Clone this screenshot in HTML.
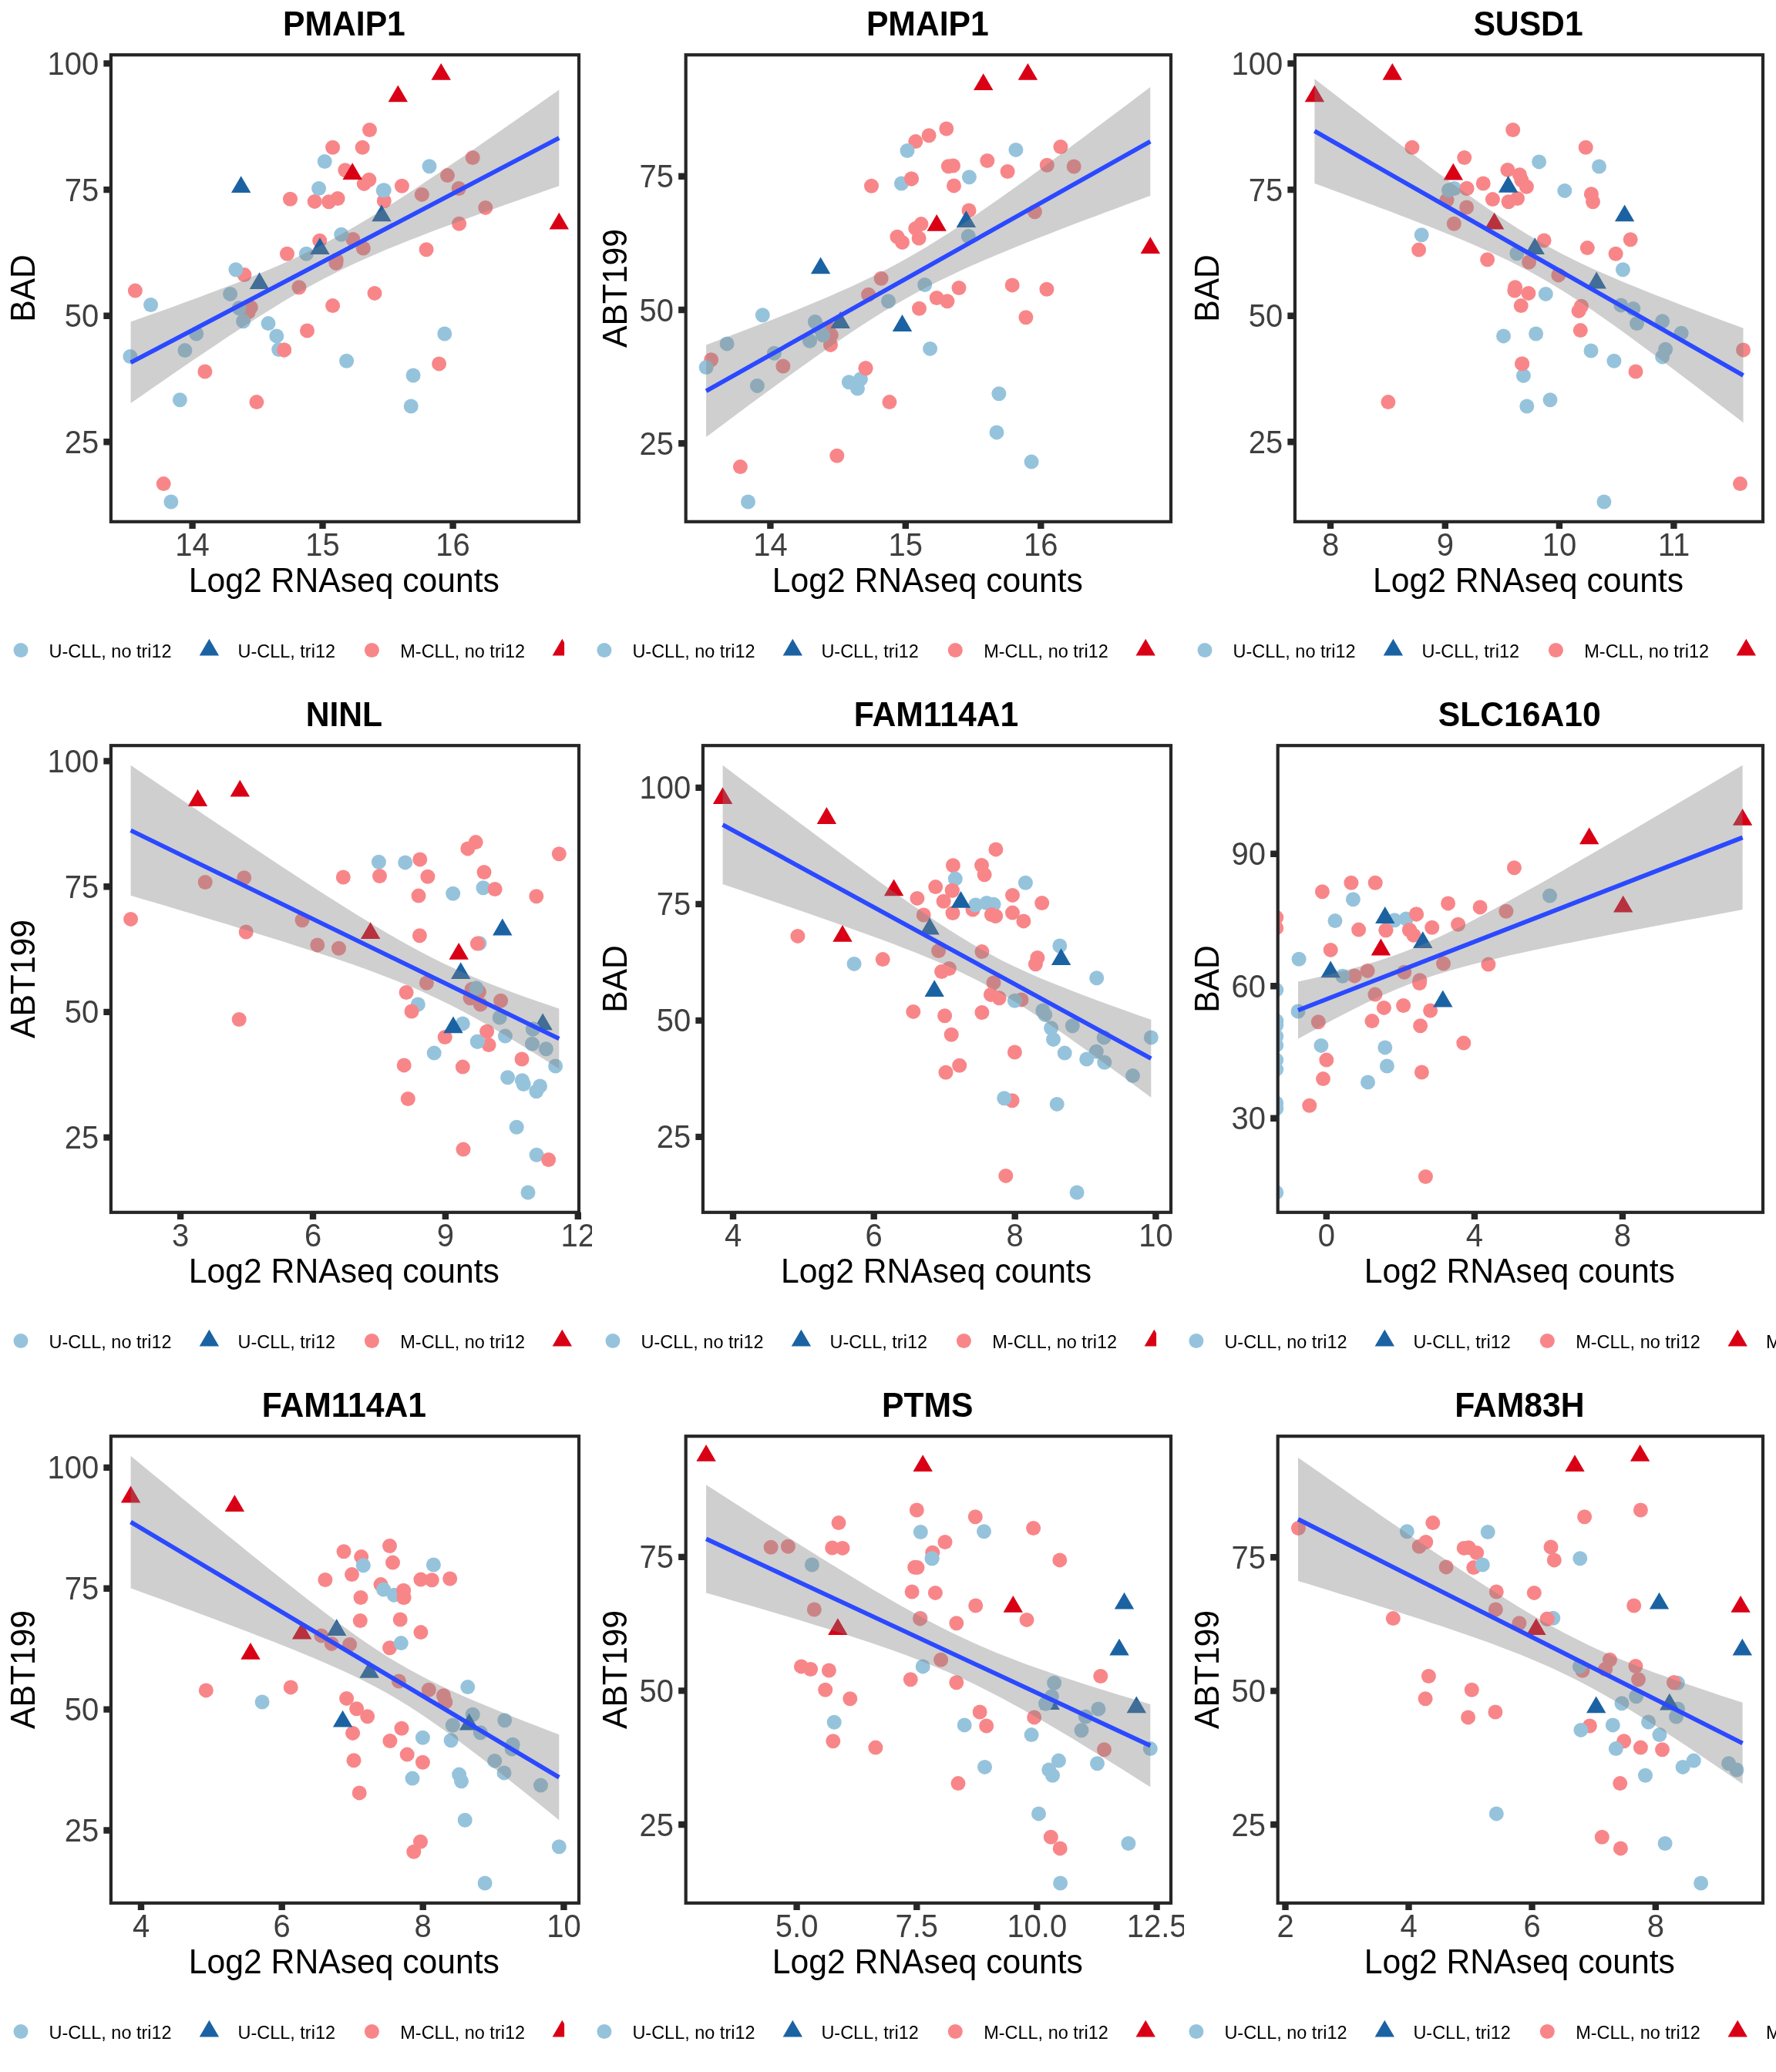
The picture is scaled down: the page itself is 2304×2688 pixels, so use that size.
<!DOCTYPE html>
<html lang="en"><head><meta charset="utf-8"><title>Gene expression vs drug response</title>
<style>html,body{margin:0;padding:0;background:#fff}svg{display:block;will-change:transform}text{font-family:"Liberation Sans",Arial,Helvetica,sans-serif}.tt{font-weight:700;font-size:42.67px;text-anchor:middle;fill:#000}.at{font-size:42.67px;text-anchor:middle;fill:#000}.xt{font-size:40px;text-anchor:middle;fill:#3f3f3f}.yt{font-size:40px;text-anchor:end;fill:#3f3f3f}.lg{font-size:23.47px;fill:#000}.b{fill:#96C3DC}.p{fill:#F88689}.t{fill:#1B62A3}.r{fill:#D90016}</style></head><body>
<svg width="2304" height="2688" viewBox="0 0 2304 2688">
<rect width="2304" height="2688" fill="#fff"/>
<defs>
<clipPath id="c0"><rect x="143.9" y="71.2" width="607.1" height="605.6"/></clipPath>
<clipPath id="c1"><rect x="889.7" y="71.2" width="629.3" height="605.6"/></clipPath>
<clipPath id="c2"><rect x="1679.9" y="71.2" width="607.1" height="605.6"/></clipPath>
<clipPath id="c3"><rect x="143.9" y="967.2" width="607.1" height="605.6"/></clipPath>
<clipPath id="c4"><rect x="911.9" y="967.2" width="607.1" height="605.6"/></clipPath>
<clipPath id="c5"><rect x="1657.7" y="967.2" width="629.3" height="605.6"/></clipPath>
<clipPath id="c6"><rect x="143.9" y="1863.2" width="607.1" height="605.6"/></clipPath>
<clipPath id="c7"><rect x="889.7" y="1863.2" width="629.3" height="605.6"/></clipPath>
<clipPath id="c8"><rect x="1657.7" y="1863.2" width="629.3" height="605.6"/></clipPath>
</defs>
<g id="panel1">
<rect x="0" y="0" width="768" height="896" fill="#fff"/>
<rect x="-24.8" y="806.5" width="960" height="74" fill="#fff"/>
<circle class="b" cx="27" cy="843.5" r="9.5"/>
<path class="t" d="M271.4 828.8l12.7 21.8h-25.4z"/>
<circle class="p" cx="482.4" cy="843.5" r="9.5"/>
<path class="r" d="M729.3 828.8l12.7 21.8h-25.4z"/>
<text class="lg" transform="translate(63.5 852.5) scale(1 1.04)">U-CLL, no tri12</text>
<text class="lg" transform="translate(308.5 852.5) scale(1 1.04)">U-CLL, tri12</text>
<text class="lg" transform="translate(519.3 852.5) scale(1 1.04)">M-CLL, no tri12</text>
<text class="lg" transform="translate(766.1 852.5) scale(1 1.04)">M-CLL, tri12</text>
<text class="tt" transform="translate(446.4 45.6) scale(1 1.04)">PMAIP1</text>
<text class="at" transform="translate(446.4 768) scale(1 1.04)">Log2 RNAseq counts</text>
<text class="at" transform="translate(45.4 374) rotate(-90) scale(1 1.04)">BAD</text>
<text class="yt" transform="translate(128.3 96.9) scale(1 1.04)">100</text>
<text class="yt" transform="translate(128.3 260.6) scale(1 1.04)">75</text>
<text class="yt" transform="translate(128.3 424.2) scale(1 1.04)">50</text>
<text class="yt" transform="translate(128.3 587.8) scale(1 1.04)">25</text>
<text class="xt" transform="translate(249.6 721) scale(1 1.04)">14</text>
<text class="xt" transform="translate(418.5 721) scale(1 1.04)">15</text>
<text class="xt" transform="translate(587.6 721) scale(1 1.04)">16</text>
<path d="M143.9 82.4h-9.55M143.9 246.1h-9.55M143.9 409.7h-9.55M143.9 573.3h-9.55M249.6 676.8v9.1M418.5 676.8v9.1M587.6 676.8v9.1" stroke="#262626" stroke-width="8.4" fill="none"/>
<g clip-path="url(#c0)">
<g class="p"><circle cx="175.4" cy="377.1" r="9.5"/><circle cx="212.2" cy="627.6" r="9.5"/><circle cx="265.9" cy="482" r="9.5"/><circle cx="317" cy="356.6" r="9.5"/><circle cx="325.3" cy="398.7" r="9.5"/><circle cx="332.9" cy="521.6" r="9.5"/><circle cx="372.5" cy="329.2" r="9.5"/><circle cx="376.5" cy="258.2" r="9.5"/><circle cx="368.6" cy="453.9" r="9.5"/><circle cx="388" cy="372.8" r="9.5"/><circle cx="398.5" cy="429" r="9.5"/><circle cx="408.2" cy="261.4" r="9.5"/><circle cx="414.7" cy="312.3" r="9.5"/><circle cx="426.6" cy="261.8" r="9.5"/><circle cx="438.1" cy="257.5" r="9.5"/><circle cx="431.6" cy="191.2" r="9.5"/><circle cx="431.6" cy="396.6" r="9.5"/><circle cx="436.3" cy="337.5" r="9.5"/><circle cx="435.9" cy="341.4" r="9.5"/><circle cx="322.1" cy="404.9" r="9.5"/><circle cx="447.8" cy="220.7" r="9.5"/><circle cx="457.9" cy="310.5" r="9.5"/><circle cx="471.3" cy="322" r="9.5"/><circle cx="470.2" cy="191.2" r="9.5"/><circle cx="479.5" cy="168.5" r="9.5"/><circle cx="472.3" cy="238.4" r="9.5"/><circle cx="478.8" cy="233.3" r="9.5"/><circle cx="486" cy="380.4" r="9.5"/><circle cx="498.3" cy="260.7" r="9.5"/><circle cx="521.4" cy="241.3" r="9.5"/><circle cx="547.3" cy="252.4" r="9.5"/><circle cx="553.1" cy="323.8" r="9.5"/><circle cx="569.6" cy="471.9" r="9.5"/><circle cx="580.5" cy="227.6" r="9.5"/><circle cx="595.2" cy="244.5" r="9.5"/><circle cx="595.6" cy="290.3" r="9.5"/><circle cx="613.2" cy="204.5" r="9.5"/><circle cx="629.8" cy="269.4" r="9.5"/></g>
<g class="b"><circle cx="168.9" cy="462.5" r="9.5"/><circle cx="195.6" cy="395.5" r="9.5"/><circle cx="239.9" cy="454.6" r="9.5"/><circle cx="254.7" cy="433" r="9.5"/><circle cx="233.4" cy="518.7" r="9.5"/><circle cx="221.9" cy="651" r="9.5"/><circle cx="298.6" cy="381.4" r="9.5"/><circle cx="305.9" cy="349.7" r="9.5"/><circle cx="310.2" cy="399.8" r="9.5"/><circle cx="315.6" cy="416.8" r="9.5"/><circle cx="348" cy="419.6" r="9.5"/><circle cx="358.8" cy="435.9" r="9.5"/><circle cx="361.7" cy="453.5" r="9.5"/><circle cx="397.4" cy="329.2" r="9.5"/><circle cx="413.6" cy="244.5" r="9.5"/><circle cx="421.2" cy="209.5" r="9.5"/><circle cx="442.8" cy="304.3" r="9.5"/><circle cx="449.6" cy="468.3" r="9.5"/><circle cx="497.2" cy="247" r="9.5"/><circle cx="498.3" cy="246.7" r="9.5"/><circle cx="557" cy="215.7" r="9.5"/><circle cx="536.1" cy="487" r="9.5"/><circle cx="533.2" cy="527" r="9.5"/><circle cx="576.8" cy="433" r="9.5"/></g>
<circle class="p" cx="368.6" cy="453.9" r="9.5"/>
<path class="t" d="M312.7 228.2l12.7 21.8h-25.4zM336.5 353.3l12.7 21.8h-25.4zM415 308.2l12.7 21.8h-25.4zM495 265.4l12.7 21.8h-25.4z"/>
<path class="r" d="M516.3 110.4l12.7 21.8h-25.4zM572.2 81.9l12.7 21.8h-25.4zM457.2 211.3l12.7 21.8h-25.4zM725.3 275.8l12.7 21.8h-25.4z"/>
<path d="M169.6 417.5L183.5 412.6L197.4 407.6L211.3 402.7L225.2 397.7L239.1 392.6L253 387.5L266.9 382.3L280.8 377.1L294.7 371.8L308.6 366.4L322.5 360.8L336.3 355.1L350.2 349.3L364.1 343.2L378 337L391.9 330.4L405.8 323.6L419.7 316.5L433.6 309.1L447.5 301.3L461.4 293.3L475.3 285.1L489.2 276.5L503 267.8L516.9 259L530.8 250L544.7 240.8L558.6 231.6L572.5 222.2L586.4 212.8L600.3 203.4L614.2 193.9L628.1 184.3L642 174.7L655.9 165.1L669.7 155.4L683.6 145.7L697.5 136L711.4 126.3L725.3 116.6L725.3 241.3L711.4 246.1L697.5 250.9L683.6 255.8L669.7 260.7L655.9 265.6L642 270.5L628.1 275.5L614.2 280.5L600.3 285.6L586.4 290.7L572.5 295.8L558.6 301.1L544.7 306.4L530.8 311.8L516.9 317.4L503 323.1L489.2 328.9L475.3 335L461.4 341.3L447.5 347.8L433.6 354.7L419.7 361.8L405.8 369.3L391.9 377L378 385.1L364.1 393.3L350.2 401.9L336.3 410.6L322.5 419.5L308.6 428.5L294.7 437.6L280.8 446.9L266.9 456.2L253 465.6L239.1 475.1L225.2 484.6L211.3 494.2L197.4 503.8L183.5 513.4L169.6 523.1Z" fill="#808080" fill-opacity="0.38"/>
<line x1="169.6" y1="470.3" x2="725.3" y2="178.9" stroke="#2B49FF" stroke-width="5.7"/>
</g>
<rect x="143.9" y="71.2" width="607.1" height="605.6" fill="none" stroke="#262626" stroke-width="4.2"/>
</g>
<g id="panel2">
<rect x="768" y="0" width="768" height="896" fill="#fff"/>
<rect x="732.1" y="806.5" width="960" height="74" fill="#fff"/>
<circle class="b" cx="783.9" cy="843.5" r="9.5"/>
<path class="t" d="M1028.3 828.8l12.7 21.8h-25.4z"/>
<circle class="p" cx="1239.3" cy="843.5" r="9.5"/>
<path class="r" d="M1486.2 828.8l12.7 21.8h-25.4z"/>
<text class="lg" transform="translate(820.4 852.5) scale(1 1.04)">U-CLL, no tri12</text>
<text class="lg" transform="translate(1065.4 852.5) scale(1 1.04)">U-CLL, tri12</text>
<text class="lg" transform="translate(1276.2 852.5) scale(1 1.04)">M-CLL, no tri12</text>
<text class="lg" transform="translate(1523 852.5) scale(1 1.04)">M-CLL, tri12</text>
<text class="tt" transform="translate(1203.3 45.6) scale(1 1.04)">PMAIP1</text>
<text class="at" transform="translate(1203.3 768) scale(1 1.04)">Log2 RNAseq counts</text>
<text class="at" transform="translate(813.4 374) rotate(-90) scale(1 1.04)">ABT199</text>
<text class="yt" transform="translate(874.1 243.2) scale(1 1.04)">75</text>
<text class="yt" transform="translate(874.1 416.5) scale(1 1.04)">50</text>
<text class="yt" transform="translate(874.1 589.7) scale(1 1.04)">25</text>
<text class="xt" transform="translate(999.4 721) scale(1 1.04)">14</text>
<text class="xt" transform="translate(1174.8 721) scale(1 1.04)">15</text>
<text class="xt" transform="translate(1350.3 721) scale(1 1.04)">16</text>
<path d="M889.7 228.7h-9.55M889.7 402h-9.55M889.7 575.2h-9.55M999.4 676.8v9.1M1174.8 676.8v9.1M1350.3 676.8v9.1" stroke="#262626" stroke-width="8.4" fill="none"/>
<g clip-path="url(#c1)">
<g class="p"><circle cx="922.6" cy="466.8" r="9.5"/><circle cx="960.4" cy="605.6" r="9.5"/><circle cx="1015.9" cy="475.1" r="9.5"/><circle cx="1074.7" cy="425.4" r="9.5"/><circle cx="1078.3" cy="434.8" r="9.5"/><circle cx="1077.5" cy="447.4" r="9.5"/><circle cx="1085.8" cy="591.2" r="9.5"/><circle cx="1123" cy="477.7" r="9.5"/><circle cx="1126.6" cy="382.2" r="9.5"/><circle cx="1130.5" cy="241.3" r="9.5"/><circle cx="1143.1" cy="361.3" r="9.5"/><circle cx="1153.9" cy="521.6" r="9.5"/><circle cx="1164" cy="307.2" r="9.5"/><circle cx="1170.5" cy="314.4" r="9.5"/><circle cx="1182.4" cy="231.9" r="9.5"/><circle cx="1187.8" cy="183.6" r="9.5"/><circle cx="1187.8" cy="296.4" r="9.5"/><circle cx="1195" cy="290.6" r="9.5"/><circle cx="1192.1" cy="309" r="9.5"/><circle cx="1192.5" cy="400.2" r="9.5"/><circle cx="1205.1" cy="175.7" r="9.5"/><circle cx="1215.2" cy="386.5" r="9.5"/><circle cx="1227.8" cy="167" r="9.5"/><circle cx="1228.9" cy="390.8" r="9.5"/><circle cx="1230.3" cy="215.7" r="9.5"/><circle cx="1236.5" cy="215" r="9.5"/><circle cx="1237.5" cy="240.9" r="9.5"/><circle cx="1244" cy="373.5" r="9.5"/><circle cx="1257" cy="273" r="9.5"/><circle cx="1280.8" cy="208.5" r="9.5"/><circle cx="1307.1" cy="222.5" r="9.5"/><circle cx="1313.2" cy="369.9" r="9.5"/><circle cx="1330.9" cy="411.7" r="9.5"/><circle cx="1342.4" cy="274.8" r="9.5"/><circle cx="1357.9" cy="375.3" r="9.5"/><circle cx="1358.3" cy="214.2" r="9.5"/><circle cx="1375.9" cy="190.5" r="9.5"/><circle cx="1393.2" cy="216" r="9.5"/></g>
<g class="b"><circle cx="916.1" cy="476.6" r="9.5"/><circle cx="943.1" cy="445.9" r="9.5"/><circle cx="982.4" cy="500.4" r="9.5"/><circle cx="989.3" cy="408.8" r="9.5"/><circle cx="1004.4" cy="458.2" r="9.5"/><circle cx="1050.5" cy="442.3" r="9.5"/><circle cx="1057.4" cy="417.5" r="9.5"/><circle cx="1062.4" cy="425.4" r="9.5"/><circle cx="1067.5" cy="434.8" r="9.5"/><circle cx="1101.3" cy="495.7" r="9.5"/><circle cx="1112.5" cy="504" r="9.5"/><circle cx="1116.5" cy="491.7" r="9.5"/><circle cx="1152.5" cy="390.8" r="9.5"/><circle cx="1169.4" cy="238" r="9.5"/><circle cx="1177" cy="195.5" r="9.5"/><circle cx="1199.7" cy="369.5" r="9.5"/><circle cx="1206.6" cy="452.4" r="9.5"/><circle cx="1256.3" cy="306.5" r="9.5"/><circle cx="1257.4" cy="229.7" r="9.5"/><circle cx="1317.9" cy="194.4" r="9.5"/><circle cx="1295.9" cy="510.8" r="9.5"/><circle cx="1293" cy="560.9" r="9.5"/><circle cx="1338.1" cy="599.1" r="9.5"/><circle cx="970.5" cy="651" r="9.5"/></g>
<circle class="p" cx="1182.4" cy="231.9" r="9.5"/>
<circle class="p" cx="1123" cy="477.7" r="9.5"/>
<path class="t" d="M1064.6 333.5l12.7 21.8h-25.4zM1090.2 404.1l12.7 21.8h-25.4zM1170.5 408.1l12.7 21.8h-25.4zM1253.4 273.3l12.7 21.8h-25.4z"/>
<path class="r" d="M1275.7 95.3l12.7 21.8h-25.4zM1333.4 81.9l12.7 21.8h-25.4zM1215.2 278l12.7 21.8h-25.4zM1492.3 307.2l12.7 21.8h-25.4z"/>
<path d="M916.1 447.4L930.5 442L944.9 436.5L959.3 431.1L973.7 425.5L988.1 420L1002.5 414.4L1016.9 408.7L1031.4 402.9L1045.8 397L1060.2 391L1074.6 384.9L1089 378.6L1103.4 372.2L1117.8 365.5L1132.2 358.5L1146.6 351.3L1161 343.7L1175.4 335.8L1189.8 327.6L1204.2 319L1218.6 310.1L1233 300.9L1247.4 291.4L1261.8 281.7L1276.2 271.8L1290.6 261.8L1305.1 251.6L1319.5 241.3L1333.9 230.9L1348.3 220.4L1362.7 209.8L1377.1 199.2L1391.5 188.6L1405.9 177.9L1420.3 167.1L1434.7 156.3L1449.1 145.5L1463.5 134.7L1477.9 123.8L1492.3 113L1492.3 253.9L1477.9 259.2L1463.5 264.5L1449.1 269.9L1434.7 275.3L1420.3 280.7L1405.9 286.1L1391.5 291.6L1377.1 297.1L1362.7 302.7L1348.3 308.3L1333.9 314L1319.5 319.8L1305.1 325.7L1290.6 331.7L1276.2 337.8L1261.8 344.1L1247.4 350.6L1233 357.4L1218.6 364.3L1204.2 371.6L1189.8 379.2L1175.4 387.2L1161 395.5L1146.6 404.1L1132.2 413L1117.8 422.3L1103.4 431.8L1089 441.5L1074.6 451.4L1060.2 461.5L1045.8 471.7L1031.4 482L1016.9 492.4L1002.5 502.9L988.1 513.5L973.7 524.1L959.3 534.8L944.9 545.5L930.5 556.2L916.1 567Z" fill="#808080" fill-opacity="0.38"/>
<line x1="916.1" y1="507.2" x2="1492.3" y2="183.4" stroke="#2B49FF" stroke-width="5.7"/>
</g>
<rect x="889.7" y="71.2" width="629.3" height="605.6" fill="none" stroke="#262626" stroke-width="4.2"/>
</g>
<g id="panel3">
<rect x="1536" y="0" width="768" height="896" fill="#fff"/>
<rect x="1511.2" y="806.5" width="960" height="74" fill="#fff"/>
<circle class="b" cx="1563" cy="843.5" r="9.5"/>
<path class="t" d="M1807.4 828.8l12.7 21.8h-25.4z"/>
<circle class="p" cx="2018.4" cy="843.5" r="9.5"/>
<path class="r" d="M2265.3 828.8l12.7 21.8h-25.4z"/>
<text class="lg" transform="translate(1599.5 852.5) scale(1 1.04)">U-CLL, no tri12</text>
<text class="lg" transform="translate(1844.5 852.5) scale(1 1.04)">U-CLL, tri12</text>
<text class="lg" transform="translate(2055.3 852.5) scale(1 1.04)">M-CLL, no tri12</text>
<text class="tt" transform="translate(1982.5 45.6) scale(1 1.04)">SUSD1</text>
<text class="at" transform="translate(1982.5 768) scale(1 1.04)">Log2 RNAseq counts</text>
<text class="at" transform="translate(1581.4 374) rotate(-90) scale(1 1.04)">BAD</text>
<text class="yt" transform="translate(1664.3 96.9) scale(1 1.04)">100</text>
<text class="yt" transform="translate(1664.3 260.6) scale(1 1.04)">75</text>
<text class="yt" transform="translate(1664.3 424.2) scale(1 1.04)">50</text>
<text class="yt" transform="translate(1664.3 587.8) scale(1 1.04)">25</text>
<text class="xt" transform="translate(1726 721) scale(1 1.04)">8</text>
<text class="xt" transform="translate(1874.8 721) scale(1 1.04)">9</text>
<text class="xt" transform="translate(2022.9 721) scale(1 1.04)">10</text>
<text class="xt" transform="translate(2171.4 721) scale(1 1.04)">11</text>
<path d="M1679.9 82.4h-9.55M1679.9 246.1h-9.55M1679.9 409.7h-9.55M1679.9 573.3h-9.55M1726 676.8v9.1M1874.8 676.8v9.1M2022.9 676.8v9.1M2171.4 676.8v9.1" stroke="#262626" stroke-width="8.4" fill="none"/>
<g clip-path="url(#c2)">
<g class="p"><circle cx="1831.9" cy="191.2" r="9.5"/><circle cx="1800.9" cy="521.6" r="9.5"/><circle cx="1840.6" cy="324.1" r="9.5"/><circle cx="1877" cy="259.6" r="9.5"/><circle cx="1886.3" cy="290.3" r="9.5"/><circle cx="1899.7" cy="204.5" r="9.5"/><circle cx="1902.6" cy="269" r="9.5"/><circle cx="1902.9" cy="244.5" r="9.5"/><circle cx="1924.2" cy="238" r="9.5"/><circle cx="1929.6" cy="336.8" r="9.5"/><circle cx="1936.4" cy="258.6" r="9.5"/><circle cx="1955.9" cy="220.4" r="9.5"/><circle cx="1957" cy="261.8" r="9.5"/><circle cx="1962.7" cy="168.5" r="9.5"/><circle cx="1968.5" cy="257.5" r="9.5"/><circle cx="1971.4" cy="226.8" r="9.5"/><circle cx="1973.9" cy="233.7" r="9.5"/><circle cx="1980.4" cy="242.3" r="9.5"/><circle cx="1965.6" cy="372.8" r="9.5"/><circle cx="1964.9" cy="377.1" r="9.5"/><circle cx="1973.2" cy="396.6" r="9.5"/><circle cx="1974.6" cy="471.9" r="9.5"/><circle cx="1982.9" cy="380.4" r="9.5"/><circle cx="1983.6" cy="340" r="9.5"/><circle cx="2003.1" cy="311.9" r="9.5"/><circle cx="2021.8" cy="356.9" r="9.5"/><circle cx="2051.4" cy="397.3" r="9.5"/><circle cx="2048.1" cy="403.4" r="9.5"/><circle cx="2050.3" cy="428.6" r="9.5"/><circle cx="2057.2" cy="191.2" r="9.5"/><circle cx="2059.3" cy="321.6" r="9.5"/><circle cx="2064.4" cy="251.7" r="9.5"/><circle cx="2066.5" cy="261.8" r="9.5"/><circle cx="2096.1" cy="329.2" r="9.5"/><circle cx="2115.2" cy="310.8" r="9.5"/><circle cx="2122" cy="482" r="9.5"/><circle cx="2261.5" cy="453.9" r="9.5"/><circle cx="2257.5" cy="627.6" r="9.5"/></g>
<g class="b"><circle cx="1844.2" cy="304.7" r="9.5"/><circle cx="1879.5" cy="246.7" r="9.5"/><circle cx="1886.7" cy="244.5" r="9.5"/><circle cx="1950.5" cy="435.9" r="9.5"/><circle cx="1976.4" cy="487.4" r="9.5"/><circle cx="1980.8" cy="527" r="9.5"/><circle cx="1967.8" cy="328.8" r="9.5"/><circle cx="1992.6" cy="433" r="9.5"/><circle cx="1996.6" cy="209.9" r="9.5"/><circle cx="2005.3" cy="381.4" r="9.5"/><circle cx="2011" cy="518.7" r="9.5"/><circle cx="2029.8" cy="247.4" r="9.5"/><circle cx="2064" cy="455" r="9.5"/><circle cx="2074.5" cy="216" r="9.5"/><circle cx="2080.9" cy="651" r="9.5"/><circle cx="2093.9" cy="468.3" r="9.5"/><circle cx="2102.9" cy="395.9" r="9.5"/><circle cx="2105.4" cy="349.7" r="9.5"/><circle cx="2118.8" cy="400.5" r="9.5"/><circle cx="2123.5" cy="419.6" r="9.5"/><circle cx="2156.6" cy="416.8" r="9.5"/><circle cx="2156.6" cy="462.9" r="9.5"/><circle cx="2160.6" cy="453.2" r="9.5"/><circle cx="2181.1" cy="432.3" r="9.5"/></g>
<circle class="p" cx="1902.9" cy="244.5" r="9.5"/>
<circle class="p" cx="1974.6" cy="471.9" r="9.5"/>
<path class="t" d="M1956.6 227.9l12.7 21.8h-25.4zM1991.2 308.2l12.7 21.8h-25.4zM2071.2 352.6l12.7 21.8h-25.4zM2107.6 265.4l12.7 21.8h-25.4z"/>
<path class="r" d="M1705.4 110.4l12.7 21.8h-25.4zM1806.3 81.9l12.7 21.8h-25.4zM1885.3 211.7l12.7 21.8h-25.4zM1938.6 275.8l12.7 21.8h-25.4z"/>
<path d="M1705.4 102.2L1719.3 112.9L1733.2 123.7L1747.1 134.4L1761 145.1L1774.9 155.7L1788.8 166.4L1802.7 177L1816.6 187.5L1830.5 198L1844.5 208.5L1858.4 218.9L1872.3 229.2L1886.2 239.4L1900.1 249.4L1914 259.3L1927.9 269.1L1941.8 278.6L1955.7 287.8L1969.6 296.7L1983.5 305.3L1997.4 313.5L2011.3 321.3L2025.2 328.7L2039.1 335.7L2053 342.5L2066.9 348.9L2080.8 355.1L2094.7 361.1L2108.6 366.9L2122.5 372.6L2136.4 378.2L2150.3 383.7L2164.2 389.1L2178.1 394.5L2192 399.8L2205.9 405.1L2219.8 410.3L2233.7 415.5L2247.6 420.6L2261.5 425.8L2261.5 548.3L2247.6 537.6L2233.7 526.9L2219.8 516.2L2205.9 505.6L2192 495L2178.1 484.5L2164.2 474L2150.3 463.6L2136.4 453.2L2122.5 443L2108.6 432.8L2094.7 422.8L2080.8 412.9L2066.9 403.3L2053 393.9L2039.1 384.8L2025.2 376L2011.3 367.5L1997.4 359.5L1983.5 351.8L1969.6 344.6L1955.7 337.6L1941.8 331L1927.9 324.7L1914 318.5L1900.1 312.6L1886.2 306.8L1872.3 301.2L1858.4 295.6L1844.5 290.2L1830.5 284.8L1816.6 279.4L1802.7 274.1L1788.8 268.9L1774.9 263.7L1761 258.5L1747.1 253.3L1733.2 248.2L1719.3 243.1L1705.4 238Z" fill="#808080" fill-opacity="0.38"/>
<line x1="1705.4" y1="170.1" x2="2261.5" y2="487" stroke="#2B49FF" stroke-width="5.7"/>
</g>
<rect x="1679.9" y="71.2" width="607.1" height="605.6" fill="none" stroke="#262626" stroke-width="4.2"/>
</g>
<g id="panel4">
<rect x="0" y="896" width="768" height="896" fill="#fff"/>
<rect x="-24.8" y="1702.5" width="960" height="74" fill="#fff"/>
<circle class="b" cx="27" cy="1739.5" r="9.5"/>
<path class="t" d="M271.4 1724.8l12.7 21.8h-25.4z"/>
<circle class="p" cx="482.4" cy="1739.5" r="9.5"/>
<path class="r" d="M729.3 1724.8l12.7 21.8h-25.4z"/>
<text class="lg" transform="translate(63.5 1748.5) scale(1 1.04)">U-CLL, no tri12</text>
<text class="lg" transform="translate(308.5 1748.5) scale(1 1.04)">U-CLL, tri12</text>
<text class="lg" transform="translate(519.3 1748.5) scale(1 1.04)">M-CLL, no tri12</text>
<text class="lg" transform="translate(766.1 1748.5) scale(1 1.04)">M-CLL, tri12</text>
<text class="tt" transform="translate(446.4 941.6) scale(1 1.04)">NINL</text>
<text class="at" transform="translate(446.4 1664) scale(1 1.04)">Log2 RNAseq counts</text>
<text class="at" transform="translate(45.4 1270) rotate(-90) scale(1 1.04)">ABT199</text>
<text class="yt" transform="translate(128.3 1001.9) scale(1 1.04)">100</text>
<text class="yt" transform="translate(128.3 1164.7) scale(1 1.04)">75</text>
<text class="yt" transform="translate(128.3 1327.4) scale(1 1.04)">50</text>
<text class="yt" transform="translate(128.3 1490.1) scale(1 1.04)">25</text>
<text class="xt" transform="translate(234.1 1617) scale(1 1.04)">3</text>
<text class="xt" transform="translate(406 1617) scale(1 1.04)">6</text>
<text class="xt" transform="translate(577.9 1617) scale(1 1.04)">9</text>
<text class="xt" transform="translate(749.8 1617) scale(1 1.04)">12</text>
<path d="M143.9 987.4h-9.55M143.9 1150.2h-9.55M143.9 1312.9h-9.55M143.9 1475.6h-9.55M234.1 1572.8v9.1M406 1572.8v9.1M577.9 1572.8v9.1M749.8 1572.8v9.1" stroke="#262626" stroke-width="8.4" fill="none"/>
<g clip-path="url(#c3)">
<g class="b"><circle cx="491.4" cy="1118.2" r="9.5"/><circle cx="525.7" cy="1118.9" r="9.5"/><circle cx="542.3" cy="1303" r="9.5"/><circle cx="563.2" cy="1366.1" r="9.5"/><circle cx="587.7" cy="1159.2" r="9.5"/><circle cx="600.3" cy="1327.9" r="9.5"/><circle cx="619.4" cy="1351.3" r="9.5"/><circle cx="621.9" cy="1223.7" r="9.5"/><circle cx="626.9" cy="1151.7" r="9.5"/><circle cx="617.9" cy="1282.1" r="9.5"/><circle cx="648.2" cy="1320" r="9.5"/><circle cx="655.4" cy="1344.1" r="9.5"/><circle cx="658.6" cy="1397.8" r="9.5"/><circle cx="677.4" cy="1401.8" r="9.5"/><circle cx="679.2" cy="1406.5" r="9.5"/><circle cx="670.2" cy="1462.3" r="9.5"/><circle cx="691.4" cy="1335.1" r="9.5"/><circle cx="690.4" cy="1354.2" r="9.5"/><circle cx="700.5" cy="1409" r="9.5"/><circle cx="695.8" cy="1415.8" r="9.5"/><circle cx="708.4" cy="1360.7" r="9.5"/><circle cx="696.1" cy="1498.3" r="9.5"/><circle cx="685" cy="1547" r="9.5"/><circle cx="720.6" cy="1383" r="9.5"/></g>
<g class="p"><circle cx="169.6" cy="1192.4" r="9.5"/><circle cx="266.2" cy="1144.5" r="9.5"/><circle cx="316.7" cy="1138.7" r="9.5"/><circle cx="319.2" cy="1209" r="9.5"/><circle cx="310.2" cy="1322.5" r="9.5"/><circle cx="392" cy="1193.8" r="9.5"/><circle cx="411.8" cy="1225.9" r="9.5"/><circle cx="439.5" cy="1230.2" r="9.5"/><circle cx="445.3" cy="1138" r="9.5"/><circle cx="492.5" cy="1136.5" r="9.5"/><circle cx="544.8" cy="1114.9" r="9.5"/><circle cx="543" cy="1162.1" r="9.5"/><circle cx="544.4" cy="1213.7" r="9.5"/><circle cx="554.9" cy="1137.3" r="9.5"/><circle cx="553.4" cy="1275.3" r="9.5"/><circle cx="527.1" cy="1287.5" r="9.5"/><circle cx="534" cy="1312" r="9.5"/><circle cx="524.2" cy="1381.9" r="9.5"/><circle cx="529.3" cy="1425.5" r="9.5"/><circle cx="577.2" cy="1345.5" r="9.5"/><circle cx="600.3" cy="1384.1" r="9.5"/><circle cx="601" cy="1491.1" r="9.5"/><circle cx="606.8" cy="1100.9" r="9.5"/><circle cx="617.2" cy="1092.6" r="9.5"/><circle cx="612.2" cy="1283.2" r="9.5"/><circle cx="621.5" cy="1286.8" r="9.5"/><circle cx="610" cy="1294.7" r="9.5"/><circle cx="623.3" cy="1303" r="9.5"/><circle cx="619.4" cy="1224.1" r="9.5"/><circle cx="628" cy="1131.5" r="9.5"/><circle cx="642.1" cy="1153.5" r="9.5"/><circle cx="631.6" cy="1338.3" r="9.5"/><circle cx="634.1" cy="1355.6" r="9.5"/><circle cx="649.6" cy="1298.3" r="9.5"/><circle cx="677" cy="1374" r="9.5"/><circle cx="695.8" cy="1162.8" r="9.5"/><circle cx="711.6" cy="1504.5" r="9.5"/><circle cx="725.3" cy="1107.7" r="9.5"/></g>
<circle class="b" cx="617.9" cy="1282.1" r="9.5"/>
<circle class="b" cx="619.4" cy="1351.3" r="9.5"/>
<path class="t" d="M651.8 1191.6l12.7 21.8h-25.4zM597.7 1248.2l12.7 21.8h-25.4zM588 1318.5l12.7 21.8h-25.4zM704.1 1314.5l12.7 21.8h-25.4z"/>
<path class="r" d="M256.5 1024.1l12.7 21.8h-25.4zM311.3 1011.8l12.7 21.8h-25.4zM480.6 1196.3l12.7 21.8h-25.4zM595.2 1223l12.7 21.8h-25.4z"/>
<circle class="b" cx="691.4" cy="1335.1" r="9.5"/>
<path d="M169.6 992.8L183.5 1002.2L197.4 1011.6L211.3 1021L225.2 1030.3L239.1 1039.7L253 1049.1L266.9 1058.4L280.8 1067.7L294.7 1077L308.6 1086.3L322.5 1095.6L336.3 1104.8L350.2 1114L364.1 1123.2L378 1132.3L391.9 1141.4L405.8 1150.4L419.7 1159.4L433.6 1168.2L447.5 1177L461.4 1185.7L475.3 1194.3L489.2 1202.7L503 1210.9L516.9 1218.9L530.8 1226.7L544.7 1234.3L558.6 1241.5L572.5 1248.4L586.4 1255.1L600.3 1261.4L614.2 1267.4L628.1 1273.2L642 1278.7L655.9 1284.1L669.7 1289.2L683.6 1294.2L697.5 1299L711.4 1303.8L725.3 1308.4L725.3 1386.6L711.4 1377.8L697.5 1369L683.6 1360.3L669.7 1351.8L655.9 1343.4L642 1335.2L628.1 1327.3L614.2 1319.5L600.3 1312L586.4 1304.8L572.5 1298L558.6 1291.4L544.7 1285.1L530.8 1279.1L516.9 1273.4L503 1267.9L489.2 1262.7L475.3 1257.6L461.4 1252.6L447.5 1247.8L433.6 1243L419.7 1238.4L405.8 1233.9L391.9 1229.4L378 1224.9L364.1 1220.5L350.2 1216.2L336.3 1211.9L322.5 1207.6L308.6 1203.4L294.7 1199.1L280.8 1194.9L266.9 1190.7L253 1186.6L239.1 1182.4L225.2 1178.2L211.3 1174.1L197.4 1170L183.5 1165.9L169.6 1161.8Z" fill="#808080" fill-opacity="0.38"/>
<line x1="169.6" y1="1077.3" x2="725.3" y2="1347.5" stroke="#2B49FF" stroke-width="5.7"/>
</g>
<rect x="143.9" y="967.2" width="607.1" height="605.6" fill="none" stroke="#262626" stroke-width="4.2"/>
</g>
<g id="panel5">
<rect x="768" y="896" width="768" height="896" fill="#fff"/>
<rect x="743.2" y="1702.5" width="960" height="74" fill="#fff"/>
<circle class="b" cx="795" cy="1739.5" r="9.5"/>
<path class="t" d="M1039.4 1724.8l12.7 21.8h-25.4z"/>
<circle class="p" cx="1250.4" cy="1739.5" r="9.5"/>
<path class="r" d="M1497.3 1724.8l12.7 21.8h-25.4z"/>
<text class="lg" transform="translate(831.5 1748.5) scale(1 1.04)">U-CLL, no tri12</text>
<text class="lg" transform="translate(1076.5 1748.5) scale(1 1.04)">U-CLL, tri12</text>
<text class="lg" transform="translate(1287.3 1748.5) scale(1 1.04)">M-CLL, no tri12</text>
<text class="lg" transform="translate(1534.1 1748.5) scale(1 1.04)">M-CLL, tri12</text>
<text class="tt" transform="translate(1214.5 941.6) scale(1 1.04)">FAM114A1</text>
<text class="at" transform="translate(1214.5 1664) scale(1 1.04)">Log2 RNAseq counts</text>
<text class="at" transform="translate(813.4 1270) rotate(-90) scale(1 1.04)">BAD</text>
<text class="yt" transform="translate(896.3 1036.4) scale(1 1.04)">100</text>
<text class="yt" transform="translate(896.3 1187.4) scale(1 1.04)">75</text>
<text class="yt" transform="translate(896.3 1338.4) scale(1 1.04)">50</text>
<text class="yt" transform="translate(896.3 1489.4) scale(1 1.04)">25</text>
<text class="xt" transform="translate(951 1617) scale(1 1.04)">4</text>
<text class="xt" transform="translate(1133.7 1617) scale(1 1.04)">6</text>
<text class="xt" transform="translate(1316.7 1617) scale(1 1.04)">8</text>
<text class="xt" transform="translate(1499.4 1617) scale(1 1.04)">10</text>
<path d="M911.9 1021.9h-9.55M911.9 1172.9h-9.55M911.9 1323.9h-9.55M911.9 1474.9h-9.55M951 1572.8v9.1M1133.7 1572.8v9.1M1316.7 1572.8v9.1M1499.4 1572.8v9.1" stroke="#262626" stroke-width="8.4" fill="none"/>
<g clip-path="url(#c4)">
<g class="p"><circle cx="1034.9" cy="1214.4" r="9.5"/><circle cx="1145.2" cy="1244.6" r="9.5"/><circle cx="1184.8" cy="1312.4" r="9.5"/><circle cx="1189.9" cy="1165.4" r="9.5"/><circle cx="1198.2" cy="1187" r="9.5"/><circle cx="1213.7" cy="1150.6" r="9.5"/><circle cx="1217.6" cy="1233.5" r="9.5"/><circle cx="1221.6" cy="1260.5" r="9.5"/><circle cx="1224.1" cy="1169.3" r="9.5"/><circle cx="1231.3" cy="1256.5" r="9.5"/><circle cx="1225.6" cy="1317.8" r="9.5"/><circle cx="1227" cy="1391.3" r="9.5"/><circle cx="1234.2" cy="1342.3" r="9.5"/><circle cx="1235.3" cy="1155.3" r="9.5"/><circle cx="1236" cy="1184.5" r="9.5"/><circle cx="1236.4" cy="1122.8" r="9.5"/><circle cx="1244.7" cy="1382.3" r="9.5"/><circle cx="1262" cy="1180.1" r="9.5"/><circle cx="1273.5" cy="1122.5" r="9.5"/><circle cx="1277.1" cy="1134.7" r="9.5"/><circle cx="1273.9" cy="1234.6" r="9.5"/><circle cx="1273.9" cy="1313.5" r="9.5"/><circle cx="1286.5" cy="1186.6" r="9.5"/><circle cx="1291.5" cy="1188.4" r="9.5"/><circle cx="1291.9" cy="1101.9" r="9.5"/><circle cx="1289" cy="1274.9" r="9.5"/><circle cx="1285.4" cy="1290.4" r="9.5"/><circle cx="1296.2" cy="1294.7" r="9.5"/><circle cx="1313.5" cy="1161.4" r="9.5"/><circle cx="1313.5" cy="1184.1" r="9.5"/><circle cx="1316.4" cy="1365" r="9.5"/><circle cx="1313.1" cy="1427.7" r="9.5"/><circle cx="1304.8" cy="1525.4" r="9.5"/><circle cx="1325" cy="1296.9" r="9.5"/><circle cx="1327.9" cy="1194.9" r="9.5"/><circle cx="1343.4" cy="1250.8" r="9.5"/><circle cx="1345.9" cy="1242.5" r="9.5"/><circle cx="1351.7" cy="1171.5" r="9.5"/></g>
<g class="b"><circle cx="1108.1" cy="1250.4" r="9.5"/><circle cx="1239.3" cy="1140.1" r="9.5"/><circle cx="1265.6" cy="1174" r="9.5"/><circle cx="1280" cy="1171.5" r="9.5"/><circle cx="1289" cy="1173.3" r="9.5"/><circle cx="1330.4" cy="1145.2" r="9.5"/><circle cx="1316.4" cy="1298.3" r="9.5"/><circle cx="1302.7" cy="1424.8" r="9.5"/><circle cx="1352.8" cy="1311" r="9.5"/><circle cx="1355.7" cy="1316.4" r="9.5"/><circle cx="1363.6" cy="1333.7" r="9.5"/><circle cx="1366.5" cy="1348.4" r="9.5"/><circle cx="1371.2" cy="1432.4" r="9.5"/><circle cx="1374.8" cy="1227" r="9.5"/><circle cx="1381.2" cy="1366.1" r="9.5"/><circle cx="1391.3" cy="1330.8" r="9.5"/><circle cx="1397.1" cy="1547" r="9.5"/><circle cx="1409.7" cy="1374" r="9.5"/><circle cx="1422.3" cy="1364.3" r="9.5"/><circle cx="1422.7" cy="1268.8" r="9.5"/><circle cx="1432.1" cy="1345.9" r="9.5"/><circle cx="1432.8" cy="1378.3" r="9.5"/><circle cx="1469.5" cy="1395.6" r="9.5"/><circle cx="1493.3" cy="1345.9" r="9.5"/></g>
<circle class="p" cx="1235.3" cy="1155.3" r="9.5"/>
<circle class="p" cx="1286.5" cy="1186.6" r="9.5"/>
<circle class="p" cx="1291.5" cy="1188.4" r="9.5"/>
<path class="t" d="M1246.5 1156l12.7 21.8h-25.4zM1206.1 1190.6l12.7 21.8h-25.4zM1212.2 1271.3l12.7 21.8h-25.4zM1376.6 1230.2l12.7 21.8h-25.4z"/>
<path class="r" d="M937.6 1021.2l12.7 21.8h-25.4zM1072.4 1047.1l12.7 21.8h-25.4zM1159.6 1140.5l12.7 21.8h-25.4zM1093 1199.9l12.7 21.8h-25.4z"/>
<path d="M937.6 992.8L951.5 1003.2L965.4 1013.7L979.3 1024.1L993.2 1034.5L1007.1 1044.9L1021 1055.3L1034.9 1065.7L1048.8 1076L1062.7 1086.4L1076.6 1096.7L1090.5 1106.9L1104.3 1117.2L1118.2 1127.3L1132.1 1137.4L1146 1147.5L1159.9 1157.4L1173.8 1167.3L1187.7 1177L1201.6 1186.5L1215.5 1195.9L1229.4 1205L1243.3 1213.8L1257.2 1222.3L1271 1230.4L1284.9 1238.1L1298.8 1245.4L1312.7 1252.2L1326.6 1258.7L1340.5 1264.9L1354.4 1270.9L1368.3 1276.6L1382.2 1282.1L1396.1 1287.5L1410 1292.8L1423.9 1297.9L1437.7 1303L1451.6 1308.1L1465.5 1313L1479.4 1318L1493.3 1322.8L1493.3 1423.7L1479.4 1413.5L1465.5 1403.2L1451.6 1393L1437.7 1382.9L1423.9 1372.8L1410 1362.8L1396.1 1352.9L1382.2 1343.1L1368.3 1333.5L1354.4 1324L1340.5 1314.8L1326.6 1305.8L1312.7 1297.1L1298.8 1288.8L1284.9 1280.9L1271 1273.4L1257.2 1266.4L1243.3 1259.7L1229.4 1253.3L1215.5 1247.3L1201.6 1241.5L1187.7 1235.8L1173.8 1230.4L1159.9 1225.1L1146 1219.8L1132.1 1214.7L1118.2 1209.7L1104.3 1204.7L1090.5 1199.7L1076.6 1194.8L1062.7 1189.9L1048.8 1185.1L1034.9 1180.2L1021 1175.5L1007.1 1170.7L993.2 1165.9L979.3 1161.2L965.4 1156.4L951.5 1151.7L937.6 1147Z" fill="#808080" fill-opacity="0.38"/>
<line x1="937.6" y1="1069.9" x2="1493.3" y2="1373.3" stroke="#2B49FF" stroke-width="5.7"/>
</g>
<rect x="911.9" y="967.2" width="607.1" height="605.6" fill="none" stroke="#262626" stroke-width="4.2"/>
</g>
<g id="panel6">
<rect x="1536" y="896" width="768" height="896" fill="#fff"/>
<rect x="1500.1" y="1702.5" width="960" height="74" fill="#fff"/>
<circle class="b" cx="1551.9" cy="1739.5" r="9.5"/>
<path class="t" d="M1796.3 1724.8l12.7 21.8h-25.4z"/>
<circle class="p" cx="2007.3" cy="1739.5" r="9.5"/>
<path class="r" d="M2254.2 1724.8l12.7 21.8h-25.4z"/>
<text class="lg" transform="translate(1588.4 1748.5) scale(1 1.04)">U-CLL, no tri12</text>
<text class="lg" transform="translate(1833.4 1748.5) scale(1 1.04)">U-CLL, tri12</text>
<text class="lg" transform="translate(2044.2 1748.5) scale(1 1.04)">M-CLL, no tri12</text>
<text class="lg" transform="translate(2291 1748.5) scale(1 1.04)">M-CLL, tri12</text>
<text class="tt" transform="translate(1971.3 941.6) scale(1 1.04)">SLC16A10</text>
<text class="at" transform="translate(1971.3 1664) scale(1 1.04)">Log2 RNAseq counts</text>
<text class="at" transform="translate(1581.4 1270) rotate(-90) scale(1 1.04)">BAD</text>
<text class="yt" transform="translate(1642.1 1122.2) scale(1 1.04)">90</text>
<text class="yt" transform="translate(1642.1 1293.7) scale(1 1.04)">60</text>
<text class="yt" transform="translate(1642.1 1465.3) scale(1 1.04)">30</text>
<text class="xt" transform="translate(1720.8 1617) scale(1 1.04)">0</text>
<text class="xt" transform="translate(1912.9 1617) scale(1 1.04)">4</text>
<text class="xt" transform="translate(2104.9 1617) scale(1 1.04)">8</text>
<path d="M1657.7 1107.7h-9.55M1657.7 1279.2h-9.55M1657.7 1450.8h-9.55M1720.8 1572.8v9.1M1912.9 1572.8v9.1M2104.9 1572.8v9.1" stroke="#262626" stroke-width="8.4" fill="none"/>
<g clip-path="url(#c5)">
<g class="p"><circle cx="1655.7" cy="1190.2" r="9.5"/><circle cx="1655.7" cy="1203.9" r="9.5"/><circle cx="1715.4" cy="1156.7" r="9.5"/><circle cx="1698.8" cy="1434.2" r="9.5"/><circle cx="1710.3" cy="1325.7" r="9.5"/><circle cx="1716.5" cy="1399.6" r="9.5"/><circle cx="1720.8" cy="1375.1" r="9.5"/><circle cx="1726.2" cy="1232.4" r="9.5"/><circle cx="1752.9" cy="1145.2" r="9.5"/><circle cx="1757.2" cy="1265.9" r="9.5"/><circle cx="1762.6" cy="1206.1" r="9.5"/><circle cx="1774.1" cy="1259.4" r="9.5"/><circle cx="1779.9" cy="1324.6" r="9.5"/><circle cx="1783.9" cy="1290.1" r="9.5"/><circle cx="1784.2" cy="1145.2" r="9.5"/><circle cx="1795.4" cy="1307.4" r="9.5"/><circle cx="1797.9" cy="1206.8" r="9.5"/><circle cx="1820.6" cy="1304.5" r="9.5"/><circle cx="1821.7" cy="1261.2" r="9.5"/><circle cx="1828.5" cy="1206.5" r="9.5"/><circle cx="1833.9" cy="1213.3" r="9.5"/><circle cx="1837.5" cy="1185.9" r="9.5"/><circle cx="1841.9" cy="1271.7" r="9.5"/><circle cx="1841.5" cy="1275.6" r="9.5"/><circle cx="1842.6" cy="1330.8" r="9.5"/><circle cx="1844.4" cy="1391" r="9.5"/><circle cx="1849.4" cy="1526.5" r="9.5"/><circle cx="1855.6" cy="1311" r="9.5"/><circle cx="1857.7" cy="1203.2" r="9.5"/><circle cx="1872.5" cy="1250.1" r="9.5"/><circle cx="1878.6" cy="1171.9" r="9.5"/><circle cx="1891.6" cy="1199.2" r="9.5"/><circle cx="1898.8" cy="1353.1" r="9.5"/><circle cx="1920.1" cy="1176.9" r="9.5"/><circle cx="1930.9" cy="1251.1" r="9.5"/><circle cx="1953.9" cy="1182.3" r="9.5"/><circle cx="1964.4" cy="1125.7" r="9.5"/></g>
<g class="b"><circle cx="1655.7" cy="1284.3" r="9.5"/><circle cx="1655.7" cy="1324.3" r="9.5"/><circle cx="1655.7" cy="1330.1" r="9.5"/><circle cx="1655.7" cy="1344.5" r="9.5"/><circle cx="1655.7" cy="1356" r="9.5"/><circle cx="1655.7" cy="1375.1" r="9.5"/><circle cx="1655.7" cy="1387.4" r="9.5"/><circle cx="1655.7" cy="1431" r="9.5"/><circle cx="1655.7" cy="1438.2" r="9.5"/><circle cx="1655.7" cy="1547" r="9.5"/><circle cx="1685.1" cy="1244.3" r="9.5"/><circle cx="1684" cy="1312" r="9.5"/><circle cx="1713.9" cy="1356.4" r="9.5"/><circle cx="1732" cy="1194.6" r="9.5"/><circle cx="1741.7" cy="1266.3" r="9.5"/><circle cx="1755.4" cy="1166.8" r="9.5"/><circle cx="1774.5" cy="1403.9" r="9.5"/><circle cx="1796.8" cy="1358.9" r="9.5"/><circle cx="1799.4" cy="1383" r="9.5"/><circle cx="1809.1" cy="1193.8" r="9.5"/><circle cx="1824.2" cy="1192" r="9.5"/><circle cx="2010.5" cy="1162.1" r="9.5"/></g>
<circle class="p" cx="1837.5" cy="1185.9" r="9.5"/>
<circle class="p" cx="1828.5" cy="1206.5" r="9.5"/>
<circle class="p" cx="1797.9" cy="1206.8" r="9.5"/>
<path class="t" d="M1796.8 1176.1l12.7 21.8h-25.4zM1726.2 1246.4l12.7 21.8h-25.4zM1845.8 1208.2l12.7 21.8h-25.4zM1871.8 1284.6l12.7 21.8h-25.4z"/>
<path class="r" d="M1791.4 1217.6l12.7 21.8h-25.4zM2061.7 1073.4l12.7 21.8h-25.4zM2105.7 1161.7l12.7 21.8h-25.4zM2260.6 1048.9l12.7 21.8h-25.4z"/>
<path d="M1684 1273.5L1698.5 1270.2L1712.9 1266.9L1727.3 1263.4L1741.7 1259.8L1756.1 1255.9L1770.5 1251.9L1784.9 1247.5L1799.4 1242.8L1813.8 1237.7L1828.2 1232.3L1842.6 1226.4L1857 1220.1L1871.4 1213.5L1885.8 1206.6L1900.3 1199.4L1914.7 1191.9L1929.1 1184.3L1943.5 1176.5L1957.9 1168.6L1972.3 1160.6L1986.7 1152.5L2001.2 1144.4L2015.6 1136.2L2030 1127.9L2044.4 1119.6L2058.8 1111.3L2073.2 1102.9L2087.6 1094.5L2102.1 1086.1L2116.5 1077.7L2130.9 1069.3L2145.3 1060.8L2159.7 1052.3L2174.1 1043.8L2188.5 1035.3L2203 1026.8L2217.4 1018.3L2231.8 1009.8L2246.2 1001.3L2260.6 992.8L2260.6 1180.1L2246.2 1182.8L2231.8 1185.5L2217.4 1188.2L2203 1190.9L2188.5 1193.6L2174.1 1196.3L2159.7 1199L2145.3 1201.8L2130.9 1204.5L2116.5 1207.3L2102.1 1210L2087.6 1212.8L2073.2 1215.7L2058.8 1218.5L2044.4 1221.4L2030 1224.3L2015.6 1227.2L2001.2 1230.2L1986.7 1233.3L1972.3 1236.4L1957.9 1239.6L1943.5 1242.9L1929.1 1246.4L1914.7 1249.9L1900.3 1253.7L1885.8 1257.7L1871.4 1262L1857 1266.6L1842.6 1271.5L1828.2 1276.8L1813.8 1282.6L1799.4 1288.7L1784.9 1295.2L1770.5 1302.1L1756.1 1309.2L1741.7 1316.6L1727.3 1324.1L1712.9 1331.9L1698.5 1339.7L1684 1347.7Z" fill="#808080" fill-opacity="0.38"/>
<line x1="1684" y1="1310.6" x2="2260.6" y2="1086.5" stroke="#2B49FF" stroke-width="5.7"/>
</g>
<rect x="1657.7" y="967.2" width="629.3" height="605.6" fill="none" stroke="#262626" stroke-width="4.2"/>
</g>
<g id="panel7">
<rect x="0" y="1792" width="768" height="896" fill="#fff"/>
<rect x="-24.8" y="2598.5" width="960" height="74" fill="#fff"/>
<circle class="b" cx="27" cy="2635.5" r="9.5"/>
<path class="t" d="M271.4 2620.8l12.7 21.8h-25.4z"/>
<circle class="p" cx="482.4" cy="2635.5" r="9.5"/>
<path class="r" d="M729.3 2620.8l12.7 21.8h-25.4z"/>
<text class="lg" transform="translate(63.5 2644.5) scale(1 1.04)">U-CLL, no tri12</text>
<text class="lg" transform="translate(308.5 2644.5) scale(1 1.04)">U-CLL, tri12</text>
<text class="lg" transform="translate(519.3 2644.5) scale(1 1.04)">M-CLL, no tri12</text>
<text class="lg" transform="translate(766.1 2644.5) scale(1 1.04)">M-CLL, tri12</text>
<text class="tt" transform="translate(446.4 1837.6) scale(1 1.04)">FAM114A1</text>
<text class="at" transform="translate(446.4 2560) scale(1 1.04)">Log2 RNAseq counts</text>
<text class="at" transform="translate(45.4 2166) rotate(-90) scale(1 1.04)">ABT199</text>
<text class="yt" transform="translate(128.3 1918.4) scale(1 1.04)">100</text>
<text class="yt" transform="translate(128.3 2075.2) scale(1 1.04)">75</text>
<text class="yt" transform="translate(128.3 2232.1) scale(1 1.04)">50</text>
<text class="yt" transform="translate(128.3 2389) scale(1 1.04)">25</text>
<text class="xt" transform="translate(183 2513) scale(1 1.04)">4</text>
<text class="xt" transform="translate(365.7 2513) scale(1 1.04)">6</text>
<text class="xt" transform="translate(548.7 2513) scale(1 1.04)">8</text>
<text class="xt" transform="translate(731.4 2513) scale(1 1.04)">10</text>
<path d="M143.9 1903.9h-9.55M143.9 2060.7h-9.55M143.9 2217.6h-9.55M143.9 2374.5h-9.55M183 2468.8v9.1M365.7 2468.8v9.1M548.7 2468.8v9.1M731.4 2468.8v9.1" stroke="#262626" stroke-width="8.4" fill="none"/>
<g clip-path="url(#c6)">
<g class="p"><circle cx="267.3" cy="2192.9" r="9.5"/><circle cx="377.2" cy="2188.9" r="9.5"/><circle cx="416.8" cy="2121.9" r="9.5"/><circle cx="421.9" cy="2049.5" r="9.5"/><circle cx="430.2" cy="2132.4" r="9.5"/><circle cx="446" cy="2012.7" r="9.5"/><circle cx="449.6" cy="2203.4" r="9.5"/><circle cx="453.6" cy="2133.4" r="9.5"/><circle cx="456.5" cy="2042.6" r="9.5"/><circle cx="457.6" cy="2248.4" r="9.5"/><circle cx="459" cy="2283.7" r="9.5"/><circle cx="462.6" cy="2216.7" r="9.5"/><circle cx="466.2" cy="2325.9" r="9.5"/><circle cx="467.3" cy="2102.5" r="9.5"/><circle cx="468" cy="2072.5" r="9.5"/><circle cx="468.7" cy="2019.6" r="9.5"/><circle cx="476.7" cy="2226.8" r="9.5"/><circle cx="494" cy="2055.6" r="9.5"/><circle cx="505.5" cy="2005.5" r="9.5"/><circle cx="509.5" cy="2027.1" r="9.5"/><circle cx="505.5" cy="2137.8" r="9.5"/><circle cx="505.9" cy="2258.5" r="9.5"/><circle cx="519.2" cy="2101" r="9.5"/><circle cx="521" cy="2242.3" r="9.5"/><circle cx="517.4" cy="2181" r="9.5"/><circle cx="523.5" cy="2063.5" r="9.5"/><circle cx="523.9" cy="2072.5" r="9.5"/><circle cx="528.2" cy="2276.1" r="9.5"/><circle cx="545.9" cy="2049.1" r="9.5"/><circle cx="545.9" cy="2117.6" r="9.5"/><circle cx="548.4" cy="2286.2" r="9.5"/><circle cx="545.5" cy="2389.3" r="9.5"/><circle cx="536.8" cy="2402.3" r="9.5"/><circle cx="556.3" cy="2192.2" r="9.5"/><circle cx="560.3" cy="2049.8" r="9.5"/><circle cx="575.4" cy="2199.7" r="9.5"/><circle cx="577.9" cy="2208" r="9.5"/><circle cx="583.7" cy="2048" r="9.5"/></g>
<g class="b"><circle cx="340.1" cy="2208" r="9.5"/><circle cx="471.3" cy="2030.7" r="9.5"/><circle cx="497.6" cy="2062.1" r="9.5"/><circle cx="511.3" cy="2069.3" r="9.5"/><circle cx="520.3" cy="2131.6" r="9.5"/><circle cx="535" cy="2307.1" r="9.5"/><circle cx="548.4" cy="2254.2" r="9.5"/><circle cx="562.4" cy="2030" r="9.5"/><circle cx="585.1" cy="2257.8" r="9.5"/><circle cx="587.3" cy="2238.3" r="9.5"/><circle cx="595.6" cy="2302.1" r="9.5"/><circle cx="598.5" cy="2310.7" r="9.5"/><circle cx="603.2" cy="2361.2" r="9.5"/><circle cx="606.8" cy="2188.6" r="9.5"/><circle cx="613.2" cy="2224.3" r="9.5"/><circle cx="623.3" cy="2247.7" r="9.5"/><circle cx="629.1" cy="2443" r="9.5"/><circle cx="641.7" cy="2284.4" r="9.5"/><circle cx="654" cy="2299.9" r="9.5"/><circle cx="654.7" cy="2231.8" r="9.5"/><circle cx="664.1" cy="2268.9" r="9.5"/><circle cx="665.1" cy="2263.2" r="9.5"/><circle cx="701.5" cy="2316.1" r="9.5"/><circle cx="725.3" cy="2395.8" r="9.5"/></g>
<circle class="p" cx="523.5" cy="2063.5" r="9.5"/>
<circle class="p" cx="523.9" cy="2072.5" r="9.5"/>
<path class="t" d="M436.7 2100.2l12.7 21.8h-25.4zM479.2 2155l12.7 21.8h-25.4zM444.6 2218.8l12.7 21.8h-25.4zM608.6 2222.8l12.7 21.8h-25.4z"/>
<path class="r" d="M169.6 1927.6l12.7 21.8h-25.4zM304.4 1939.2l12.7 21.8h-25.4zM391.6 2104.6l12.7 21.8h-25.4zM325 2130.9l12.7 21.8h-25.4z"/>
<path d="M169.6 1888.8L183.5 1900.2L197.4 1911.7L211.3 1923.1L225.2 1934.5L239.1 1945.9L253 1957.3L266.9 1968.7L280.8 1980L294.7 1991.4L308.6 2002.6L322.5 2013.9L336.3 2025.1L350.2 2036.2L364.1 2047.3L378 2058.3L391.9 2069.3L405.8 2080.1L419.7 2090.7L433.6 2101.2L447.5 2111.5L461.4 2121.5L475.3 2131.2L489.2 2140.5L503 2149.4L516.9 2157.8L530.8 2165.8L544.7 2173.3L558.6 2180.5L572.5 2187.3L586.4 2193.7L600.3 2200L614.2 2206L628.1 2211.8L642 2217.6L655.9 2223.2L669.7 2228.7L683.6 2234.2L697.5 2239.6L711.4 2244.9L725.3 2250.2L725.3 2361.2L711.4 2349.9L697.5 2338.7L683.6 2327.5L669.7 2316.4L655.9 2305.4L642 2294.5L628.1 2283.6L614.2 2272.9L600.3 2262.4L586.4 2252.1L572.5 2242L558.6 2232.2L544.7 2222.8L530.8 2213.8L516.9 2205.2L503 2197.1L489.2 2189.4L475.3 2182.2L461.4 2175.3L447.5 2168.8L433.6 2162.5L419.7 2156.4L405.8 2150.5L391.9 2144.7L378 2139.1L364.1 2133.5L350.2 2128.1L336.3 2122.7L322.5 2117.3L308.6 2112L294.7 2106.7L280.8 2101.5L266.9 2096.3L253 2091.1L239.1 2085.9L225.2 2080.7L211.3 2075.6L197.4 2070.5L183.5 2065.4L169.6 2060.3Z" fill="#808080" fill-opacity="0.38"/>
<line x1="169.6" y1="1974.5" x2="725.3" y2="2305.7" stroke="#2B49FF" stroke-width="5.7"/>
</g>
<rect x="143.9" y="1863.2" width="607.1" height="605.6" fill="none" stroke="#262626" stroke-width="4.2"/>
</g>
<g id="panel8">
<rect x="768" y="1792" width="768" height="896" fill="#fff"/>
<rect x="732.1" y="2598.5" width="960" height="74" fill="#fff"/>
<circle class="b" cx="783.9" cy="2635.5" r="9.5"/>
<path class="t" d="M1028.3 2620.8l12.7 21.8h-25.4z"/>
<circle class="p" cx="1239.3" cy="2635.5" r="9.5"/>
<path class="r" d="M1486.2 2620.8l12.7 21.8h-25.4z"/>
<text class="lg" transform="translate(820.4 2644.5) scale(1 1.04)">U-CLL, no tri12</text>
<text class="lg" transform="translate(1065.4 2644.5) scale(1 1.04)">U-CLL, tri12</text>
<text class="lg" transform="translate(1276.2 2644.5) scale(1 1.04)">M-CLL, no tri12</text>
<text class="lg" transform="translate(1523 2644.5) scale(1 1.04)">M-CLL, tri12</text>
<text class="tt" transform="translate(1203.3 1837.6) scale(1 1.04)">PTMS</text>
<text class="at" transform="translate(1203.3 2560) scale(1 1.04)">Log2 RNAseq counts</text>
<text class="at" transform="translate(813.4 2166) rotate(-90) scale(1 1.04)">ABT199</text>
<text class="yt" transform="translate(874.1 2034.4) scale(1 1.04)">75</text>
<text class="yt" transform="translate(874.1 2207.9) scale(1 1.04)">50</text>
<text class="yt" transform="translate(874.1 2381.5) scale(1 1.04)">25</text>
<text class="xt" transform="translate(1033.6 2513) scale(1 1.04)">5.0</text>
<text class="xt" transform="translate(1189.3 2513) scale(1 1.04)">7.5</text>
<text class="xt" transform="translate(1345.3 2513) scale(1 1.04)">10.0</text>
<text class="xt" transform="translate(1500.6 2513) scale(1 1.04)">12.5</text>
<path d="M889.7 2019.9h-9.55M889.7 2193.4h-9.55M889.7 2367h-9.55M1033.6 2468.8v9.1M1189.3 2468.8v9.1M1345.3 2468.8v9.1M1500.6 2468.8v9.1" stroke="#262626" stroke-width="8.4" fill="none"/>
<g clip-path="url(#c7)">
<path class="t" d="M1458.5 2065.7l12.7 21.8h-25.4zM1452 2125.8l12.7 21.8h-25.4zM1474.3 2200.4l12.7 21.8h-25.4zM1362.2 2196.1l12.7 21.8h-25.4z"/>
<g class="b"><circle cx="1053.4" cy="2030" r="9.5"/><circle cx="1082.2" cy="2234.3" r="9.5"/><circle cx="1194.3" cy="1987.5" r="9.5"/><circle cx="1193.9" cy="2099.2" r="9.5"/><circle cx="1197.2" cy="2161.9" r="9.5"/><circle cx="1209.1" cy="2021.7" r="9.5"/><circle cx="1251.2" cy="2237.9" r="9.5"/><circle cx="1276.5" cy="1986.8" r="9.5"/><circle cx="1277.5" cy="2292.4" r="9.5"/><circle cx="1338.1" cy="2250.6" r="9.5"/><circle cx="1347.5" cy="2352.9" r="9.5"/><circle cx="1356.5" cy="2210.2" r="9.5"/><circle cx="1360.8" cy="2296" r="9.5"/><circle cx="1364.4" cy="2200.8" r="9.5"/><circle cx="1365.5" cy="2303.2" r="9.5"/><circle cx="1367.6" cy="2183.2" r="9.5"/><circle cx="1373.4" cy="2284.1" r="9.5"/><circle cx="1375.6" cy="2443" r="9.5"/><circle cx="1403" cy="2244.8" r="9.5"/><circle cx="1408.4" cy="2227.1" r="9.5"/><circle cx="1423.5" cy="2287.7" r="9.5"/><circle cx="1424.9" cy="2217" r="9.5"/><circle cx="1463.9" cy="2391.5" r="9.5"/><circle cx="1492.3" cy="2268.6" r="9.5"/></g>
<g class="p"><circle cx="1000.1" cy="2007.3" r="9.5"/><circle cx="1022.4" cy="2006.2" r="9.5"/><circle cx="1039.4" cy="2161.9" r="9.5"/><circle cx="1051.6" cy="2165.5" r="9.5"/><circle cx="1056.3" cy="2088" r="9.5"/><circle cx="1070.7" cy="2192.2" r="9.5"/><circle cx="1075.4" cy="2167" r="9.5"/><circle cx="1079.7" cy="2008" r="9.5"/><circle cx="1080.8" cy="2258.8" r="9.5"/><circle cx="1088" cy="1975.6" r="9.5"/><circle cx="1093" cy="2008.4" r="9.5"/><circle cx="1102.8" cy="2203.7" r="9.5"/><circle cx="1135.9" cy="2267.1" r="9.5"/><circle cx="1181.3" cy="2178.8" r="9.5"/><circle cx="1183.1" cy="2065" r="9.5"/><circle cx="1186.7" cy="2033.3" r="9.5"/><circle cx="1190" cy="2033.6" r="9.5"/><circle cx="1189.3" cy="1959" r="9.5"/><circle cx="1193.6" cy="2099.9" r="9.5"/><circle cx="1209.8" cy="2014.2" r="9.5"/><circle cx="1213.4" cy="2066.4" r="9.5"/><circle cx="1220.6" cy="2153.3" r="9.5"/><circle cx="1226" cy="2000.5" r="9.5"/><circle cx="1240.8" cy="2105.7" r="9.5"/><circle cx="1240.8" cy="2182.8" r="9.5"/><circle cx="1243" cy="2313.6" r="9.5"/><circle cx="1265.3" cy="1967.7" r="9.5"/><circle cx="1265.7" cy="2083" r="9.5"/><circle cx="1271.1" cy="2221" r="9.5"/><circle cx="1279.7" cy="2239" r="9.5"/><circle cx="1332" cy="2101.4" r="9.5"/><circle cx="1340.6" cy="1982.5" r="9.5"/><circle cx="1341.7" cy="2227.9" r="9.5"/><circle cx="1363.3" cy="2383.2" r="9.5"/><circle cx="1374.8" cy="2023.9" r="9.5"/><circle cx="1375.2" cy="2397.9" r="9.5"/><circle cx="1427.8" cy="2174.5" r="9.5"/><circle cx="1432.5" cy="2269.7" r="9.5"/></g>
<circle class="b" cx="1209.1" cy="2021.7" r="9.5"/>
<path class="r" d="M916.1 1873.9l12.7 21.8h-25.4zM1197.2 1887.3l12.7 21.8h-25.4zM1314.3 2070l12.7 21.8h-25.4zM1086.9 2099.2l12.7 21.8h-25.4z"/>
<path d="M916.1 1926.2L930.5 1935.5L944.9 1944.8L959.3 1954L973.7 1963.3L988.1 1972.5L1002.5 1981.6L1016.9 1990.8L1031.4 1999.9L1045.8 2008.9L1060.2 2017.9L1074.6 2026.9L1089 2035.7L1103.4 2044.5L1117.8 2053.3L1132.2 2061.9L1146.6 2070.3L1161 2078.7L1175.4 2086.8L1189.8 2094.8L1204.2 2102.5L1218.6 2110L1233 2117.2L1247.4 2124.1L1261.8 2130.8L1276.2 2137.1L1290.6 2143.2L1305.1 2149L1319.5 2154.5L1333.9 2159.9L1348.3 2165.1L1362.7 2170.1L1377.1 2175L1391.5 2179.7L1405.9 2184.4L1420.3 2189L1434.7 2193.5L1449.1 2197.9L1463.5 2202.3L1477.9 2206.6L1492.3 2210.9L1492.3 2318.3L1477.9 2309.2L1463.5 2300.1L1449.1 2291.1L1434.7 2282.1L1420.3 2273.2L1405.9 2264.4L1391.5 2255.6L1377.1 2246.9L1362.7 2238.4L1348.3 2230L1333.9 2221.8L1319.5 2213.7L1305.1 2205.9L1290.6 2198.2L1276.2 2190.9L1261.8 2183.8L1247.4 2177.1L1233 2170.6L1218.6 2164.4L1204.2 2158.4L1189.8 2152.8L1175.4 2147.3L1161 2142L1146.6 2137L1132.2 2132L1117.8 2127.2L1103.4 2122.5L1089 2117.9L1074.6 2113.3L1060.2 2108.9L1045.8 2104.5L1031.4 2100.1L1016.9 2095.8L1002.5 2091.5L988.1 2087.3L973.7 2083.1L959.3 2078.9L944.9 2074.7L930.5 2070.5L916.1 2066.4Z" fill="#808080" fill-opacity="0.38"/>
<line x1="916.1" y1="1996.3" x2="1492.3" y2="2264.6" stroke="#2B49FF" stroke-width="5.7"/>
</g>
<rect x="889.7" y="1863.2" width="629.3" height="605.6" fill="none" stroke="#262626" stroke-width="4.2"/>
</g>
<g id="panel9">
<rect x="1536" y="1792" width="768" height="896" fill="#fff"/>
<rect x="1500.1" y="2598.5" width="960" height="74" fill="#fff"/>
<circle class="b" cx="1551.9" cy="2635.5" r="9.5"/>
<path class="t" d="M1796.3 2620.8l12.7 21.8h-25.4z"/>
<circle class="p" cx="2007.3" cy="2635.5" r="9.5"/>
<path class="r" d="M2254.2 2620.8l12.7 21.8h-25.4z"/>
<text class="lg" transform="translate(1588.4 2644.5) scale(1 1.04)">U-CLL, no tri12</text>
<text class="lg" transform="translate(1833.4 2644.5) scale(1 1.04)">U-CLL, tri12</text>
<text class="lg" transform="translate(2044.2 2644.5) scale(1 1.04)">M-CLL, no tri12</text>
<text class="lg" transform="translate(2291 2644.5) scale(1 1.04)">M-CLL, tri12</text>
<text class="tt" transform="translate(1971.3 1837.6) scale(1 1.04)">FAM83H</text>
<text class="at" transform="translate(1971.3 2560) scale(1 1.04)">Log2 RNAseq counts</text>
<text class="at" transform="translate(1581.4 2166) rotate(-90) scale(1 1.04)">ABT199</text>
<text class="yt" transform="translate(1642.1 2034.8) scale(1 1.04)">75</text>
<text class="yt" transform="translate(1642.1 2208.1) scale(1 1.04)">50</text>
<text class="yt" transform="translate(1642.1 2381.5) scale(1 1.04)">25</text>
<text class="xt" transform="translate(1667.5 2513) scale(1 1.04)">2</text>
<text class="xt" transform="translate(1827.5 2513) scale(1 1.04)">4</text>
<text class="xt" transform="translate(1987.5 2513) scale(1 1.04)">6</text>
<text class="xt" transform="translate(2147.8 2513) scale(1 1.04)">8</text>
<path d="M1657.7 2020.3h-9.55M1657.7 2193.6h-9.55M1657.7 2367h-9.55M1667.5 2468.8v9.1M1827.5 2468.8v9.1M1987.5 2468.8v9.1M2147.8 2468.8v9.1" stroke="#262626" stroke-width="8.4" fill="none"/>
<g clip-path="url(#c8)">
<g class="p"><circle cx="1684.4" cy="1982.5" r="9.5"/><circle cx="1807.3" cy="2099.6" r="9.5"/><circle cx="1841.2" cy="2006.2" r="9.5"/><circle cx="1849.8" cy="2000.5" r="9.5"/><circle cx="1858.8" cy="1975.6" r="9.5"/><circle cx="1849.1" cy="2203.7" r="9.5"/><circle cx="1853.4" cy="2174.5" r="9.5"/><circle cx="1876.1" cy="2032.9" r="9.5"/><circle cx="1899.2" cy="2008.4" r="9.5"/><circle cx="1905.3" cy="2007.7" r="9.5"/><circle cx="1915.7" cy="2014.5" r="9.5"/><circle cx="1911.8" cy="2033.6" r="9.5"/><circle cx="1909.3" cy="2192.2" r="9.5"/><circle cx="1904.6" cy="2227.9" r="9.5"/><circle cx="1939.9" cy="2221" r="9.5"/><circle cx="1941.3" cy="2065" r="9.5"/><circle cx="1940.3" cy="2088" r="9.5"/><circle cx="1970.9" cy="2105.7" r="9.5"/><circle cx="1990.3" cy="2066.4" r="9.5"/><circle cx="2007.3" cy="2100.3" r="9.5"/><circle cx="2012" cy="2007" r="9.5"/><circle cx="2016.3" cy="2023.9" r="9.5"/><circle cx="2053" cy="2167.3" r="9.5"/><circle cx="2055.6" cy="1967.7" r="9.5"/><circle cx="2062.4" cy="2239" r="9.5"/><circle cx="2078.3" cy="2383.2" r="9.5"/><circle cx="2082.6" cy="2165.5" r="9.5"/><circle cx="2088.4" cy="2153.3" r="9.5"/><circle cx="2101.7" cy="2313.6" r="9.5"/><circle cx="2102.4" cy="2397.9" r="9.5"/><circle cx="2106.7" cy="2258.8" r="9.5"/><circle cx="2119.7" cy="2083" r="9.5"/><circle cx="2121.9" cy="2161.5" r="9.5"/><circle cx="2125.5" cy="2178.8" r="9.5"/><circle cx="2128.4" cy="1959" r="9.5"/><circle cx="2128.4" cy="2267.1" r="9.5"/><circle cx="2156.5" cy="2269.7" r="9.5"/><circle cx="2171.6" cy="2182.8" r="9.5"/></g>
<g class="b"><circle cx="1825.3" cy="1986.8" r="9.5"/><circle cx="1930.2" cy="1987.5" r="9.5"/><circle cx="1923.3" cy="2030" r="9.5"/><circle cx="1941.3" cy="2352.9" r="9.5"/><circle cx="2014.8" cy="2099.2" r="9.5"/><circle cx="2049.8" cy="2021.7" r="9.5"/><circle cx="2049.4" cy="2161.9" r="9.5"/><circle cx="2050.9" cy="2244.4" r="9.5"/><circle cx="2092.3" cy="2237.9" r="9.5"/><circle cx="2096.3" cy="2268.6" r="9.5"/><circle cx="2103.9" cy="2209.8" r="9.5"/><circle cx="2122.6" cy="2200.8" r="9.5"/><circle cx="2134.5" cy="2303.2" r="9.5"/><circle cx="2138.5" cy="2234" r="9.5"/><circle cx="2152.9" cy="2250.6" r="9.5"/><circle cx="2160.1" cy="2391.5" r="9.5"/><circle cx="2176.3" cy="2183.2" r="9.5"/><circle cx="2176.6" cy="2217" r="9.5"/><circle cx="2174.5" cy="2227.1" r="9.5"/><circle cx="2183.1" cy="2292.4" r="9.5"/><circle cx="2197.2" cy="2284.1" r="9.5"/><circle cx="2206.6" cy="2443" r="9.5"/><circle cx="2242.6" cy="2287.7" r="9.5"/><circle cx="2253" cy="2296" r="9.5"/></g>
<circle class="p" cx="2007.3" cy="2100.3" r="9.5"/>
<circle class="p" cx="2171.6" cy="2182.8" r="9.5"/>
<path class="t" d="M2152.5 2065.7l12.7 21.8h-25.4zM2070.7 2200.4l12.7 21.8h-25.4zM2165.8 2196.8l12.7 21.8h-25.4zM2260.3 2125.8l12.7 21.8h-25.4z"/>
<path class="r" d="M2043 1887.3l12.7 21.8h-25.4zM2127.6 1873.9l12.7 21.8h-25.4zM1992.9 2099.2l12.7 21.8h-25.4zM2258.1 2070l12.7 21.8h-25.4z"/>
<path d="M1684 1890.9L1698.5 1901L1712.9 1911.1L1727.3 1921.2L1741.7 1931.3L1756.1 1941.4L1770.5 1951.4L1784.9 1961.4L1799.4 1971.4L1813.8 1981.3L1828.2 1991.2L1842.6 2001.1L1857 2010.9L1871.4 2020.6L1885.8 2030.3L1900.3 2039.9L1914.7 2049.4L1929.1 2058.7L1943.5 2068L1957.9 2077L1972.3 2085.9L1986.7 2094.5L2001.2 2102.9L2015.6 2110.9L2030 2118.7L2044.4 2126.1L2058.8 2133.2L2073.2 2139.9L2087.6 2146.3L2102.1 2152.4L2116.5 2158.3L2130.9 2163.9L2145.3 2169.4L2159.7 2174.6L2174.1 2179.8L2188.5 2184.8L2203 2189.7L2217.4 2194.6L2231.8 2199.4L2246.2 2204.1L2260.6 2208.8L2260.6 2314.3L2246.2 2304.5L2231.8 2294.7L2217.4 2284.9L2203 2275.2L2188.5 2265.6L2174.1 2256.1L2159.7 2246.7L2145.3 2237.5L2130.9 2228.4L2116.5 2219.5L2102.1 2210.8L2087.6 2202.4L2073.2 2194.3L2058.8 2186.5L2044.4 2179L2030 2171.9L2015.6 2165.1L2001.2 2158.7L1986.7 2152.5L1972.3 2146.6L1957.9 2140.9L1943.5 2135.5L1929.1 2130.1L1914.7 2125L1900.3 2119.9L1885.8 2115L1871.4 2110.1L1857 2105.4L1842.6 2100.6L1828.2 2096L1813.8 2091.3L1799.4 2086.7L1784.9 2082.2L1770.5 2077.6L1756.1 2073.1L1741.7 2068.7L1727.3 2064.2L1712.9 2059.8L1698.5 2055.3L1684 2050.9Z" fill="#808080" fill-opacity="0.38"/>
<line x1="1684" y1="1970.9" x2="2260.6" y2="2261.5" stroke="#2B49FF" stroke-width="5.7"/>
</g>
<rect x="1657.7" y="1863.2" width="629.3" height="605.6" fill="none" stroke="#262626" stroke-width="4.2"/>
</g>
</svg></body></html>
